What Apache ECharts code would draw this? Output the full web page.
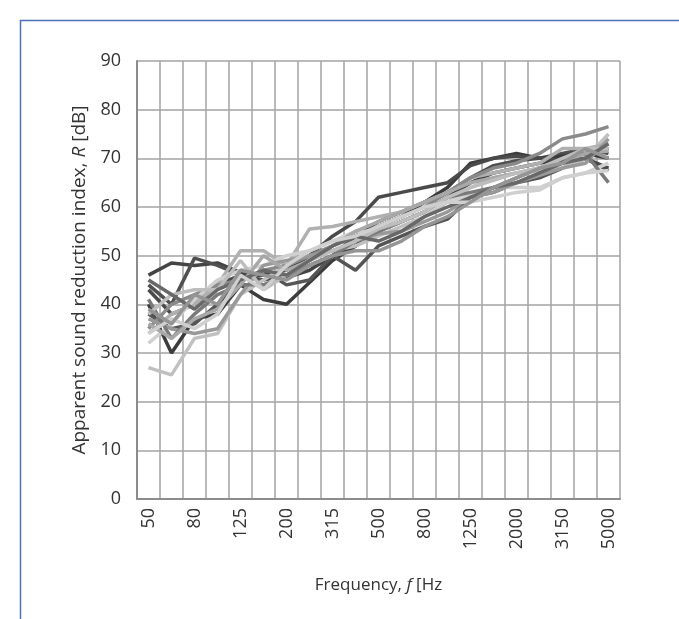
<!DOCTYPE html>
<html>
<head>
<meta charset="utf-8">
<script src="https://cdn.jsdelivr.net/npm/echarts@6/dist/echarts.min.js"></script>
<style>html,body{margin:0;padding:0;background:#fff}#c{width:679px;height:619px}</style>
</head>
<body>
<div id="c"></div>
<script>
const categories = ['50','63','80','100','125','160','200','250','315','400','500','630','800','1000','1250','1600','2000','2500','3150','4000','5000'];
const yTicks = [0,10,20,30,40,50,60,70,80,90];

const s1  = [46, 48.5, 48, 48.5, 46.5, 46, 45.5, 47, 50, 52, 55, 57, 59, 62, 65, 67, 68, 69, 70, 71, 72];
const s2  = [44, 40, 49.5, 48, 46, 45, 46, 48, 50, 54, 57, 59, 61, 63, 66, 68.5, 69.5, 70, 71, 72, 71];
const s3  = [40, 30, 37, 38, 44, 41, 40, 44.5, 49, 52, 56, 58, 61, 64, 69, 70, 71, 70, 70.5, 71, 70];
const s4  = [38, 35, 36, 40, 45, 47, 44, 45, 50, 47, 52, 54, 56, 57.5, 62, 63, 65, 66, 68, 70, 67.5];
const s5  = [43, 38, 40, 44, 46, 46, 47, 50, 54, 57, 62, 63, 64, 65, 68.5, 70, 70.5, 70, 69.5, 70, 68];
const s6  = [27, 25.5, 33, 34, 42, 45, 48, 50, 51, 52, 54, 56, 58, 61, 64, 66, 67, 67.5, 68, 70, 75];
const s7  = [34, 38, 40, 44, 51, 51, 48, 55.5, 56, 57, 58, 59, 61, 63, 66, 67, 68, 69, 72, 72, 73];
const s8  = [35, 40, 42, 44, 45, 47, 48, 50, 52, 54, 56, 58, 60, 63, 66, 68, 69, 71, 74, 75, 76.5];
const s9  = [32, 36, 41, 45, 47, 48, 50, 51, 53, 55, 55, 57, 59, 61, 62.5, 64, 64, 64, 66, 67, 69];
const s10 = [37, 35, 34, 35, 42, 48, 49, 50, 51, 53, 54.5, 55, 57, 59, 62, 63, 65, 66.5, 68, 69, 74];
const s11 = [41, 33, 38, 42, 44, 44, 46, 48, 50, 53, 55, 57, 59, 62, 63, 64, 66, 68, 70, 71, 65];
const s12 = [36, 33, 37, 39, 44, 50, 47, 49, 52, 55, 57, 59, 61, 63, 65, 66, 67, 68, 69, 71, 71.5];
const s13 = [38, 42, 43, 43, 49, 43, 46, 49, 51, 53, 55.5, 57, 59, 62, 64, 65.5, 67, 68, 70, 72, 72];
const s14 = [45, 42, 39, 43, 45, 47, 46, 49, 52, 54, 53, 55, 58, 60, 62, 64, 65, 67, 69, 70, 73];
const s15 = [34, 37, 35, 38, 46, 43, 48, 51, 53, 54, 56, 58, 60, 61, 61, 62, 63, 63.5, 66, 67, 67.5];
const s16 = [39, 36, 42, 40, 47, 46, 45, 48, 50, 51, 51, 53, 56, 58, 61, 64, 66, 68, 69, 72, 70];

const seriesData = [s1,s2,s3,s4,s5,s6,s7,s8,s9,s10,s11,s12,s13,s14,s15,s16];
const colors = ['#444444','#505050','#3c3c3c','#555555','#4a4a4a','#c0c0c0','#b0b0b0','#8a8a8a','#d0d0d0','#999999','#7a7a7a','#a8a8a8','#bdbdbd','#686868','#cfcfcf','#959595'];

const FONT = '"Open Sans"';
const chart = echarts.init(document.getElementById('c'), null, {renderer:'canvas'});
chart.setOption({
  animation: false,
  backgroundColor: '#ffffff',
  graphic: [{
    type: 'rect', left: 18, top: 18, shape: {width: 720, height: 700},
    style: {fill: 'none', stroke: '#4a72b8', lineWidth: 1.5}, silent: true
  }],
  grid: {left: 137, right: 59, top: 61, bottom: 120, containLabel: false},
  xAxis: {
    type: 'category', data: categories, boundaryGap: true,
    name: '{n|Frequency, }{i|f}{n| [Hz}', nameLocation: 'middle', nameGap: 78,
    nameTextStyle: {rich: {n: {fontFamily: FONT, fontSize: 17, color: '#333'}, i: {fontFamily: FONT, fontSize: 17, fontStyle: 'italic', color: '#333'}}},
    axisLine: {show: true, lineStyle: {color: '#8c8c8c', width: 2}},
    axisTick: {show: false},
    axisLabel: {interval: 1, rotate: 90, fontFamily: FONT, fontSize: 18, color: '#333', margin: 9},
    splitLine: {show: true, interval: 0, lineStyle: {color: '#a3a3a3', width: 1.5}}
  },
  yAxis: {
    type: 'value', min: yTicks[0], max: yTicks[yTicks.length-1], interval: 10,
    name: '{n|Apparent sound reduction index, }{i|R}{n| [dB]}', nameLocation: 'middle', nameGap: 44, nameRotate: 90,
    nameTextStyle: {rich: {n: {fontFamily: FONT, fontSize: 19, color: '#333'}, i: {fontFamily: FONT, fontSize: 19, fontStyle: 'italic', color: '#333'}}},
    axisLine: {show: true, lineStyle: {color: '#8c8c8c', width: 2}},
    axisTick: {show: false},
    axisLabel: {fontFamily: FONT, fontSize: 18, color: '#333', margin: 16},
    splitLine: {show: true, lineStyle: {color: '#a3a3a3', width: 1.5}}
  },
  series: seriesData.map((d, i) => ({
    type: 'line', data: d, symbol: 'none', smooth: false,
    lineStyle: {color: colors[i], width: 3.5}, z: 2
  }))
});
</script>
</body>
</html>
